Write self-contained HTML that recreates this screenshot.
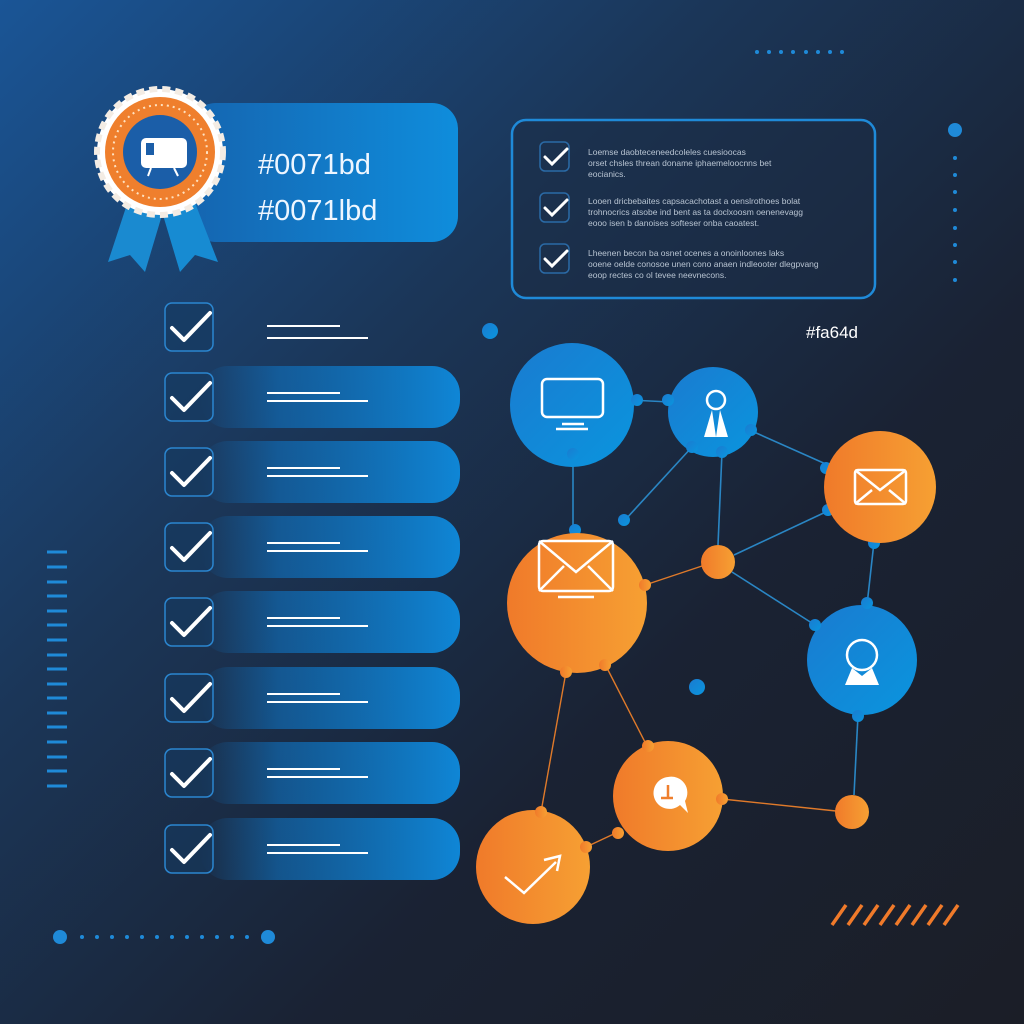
<!DOCTYPE html>
<html><head><meta charset="utf-8"><style>
html,body{margin:0;padding:0;width:1024px;height:1024px;overflow:hidden;background:#1a2130}
svg{display:block}
text{font-family:"Liberation Sans",sans-serif}
</style></head><body>
<svg width="1024" height="1024" viewBox="0 0 1024 1024" xmlns="http://www.w3.org/2000/svg">
<defs>
<linearGradient id="bg" x1="0" y1="0" x2="1" y2="1">
<stop offset="0" stop-color="#1a5596"/><stop offset="0.35" stop-color="#1b3658"/><stop offset="0.65" stop-color="#1a2233"/><stop offset="1" stop-color="#1b1e27"/>
</linearGradient>
<linearGradient id="bar" x1="0" y1="0" x2="1" y2="0">
<stop offset="0" stop-color="#0f74c4" stop-opacity="0"/><stop offset="0.3" stop-color="#0f72c0" stop-opacity="0.6"/><stop offset="1" stop-color="#0f86d6"/>
</linearGradient>
<linearGradient id="hb" x1="0" y1="0" x2="1" y2="0">
<stop offset="0" stop-color="#1565b0"/><stop offset="1" stop-color="#0f8ddc"/>
</linearGradient>
<linearGradient id="bl" x1="0" y1="0" x2="1" y2="1">
<stop offset="0" stop-color="#1a7bd0"/><stop offset="1" stop-color="#0a95de"/>
</linearGradient>
<linearGradient id="or" x1="0" y1="0" x2="1" y2="0">
<stop offset="0" stop-color="#f07a2a"/><stop offset="1" stop-color="#f6a033"/>
</linearGradient>
</defs>
<rect width="1024" height="1024" fill="url(#bg)"/>

<rect x="190" y="103" width="268" height="139" rx="26" fill="url(#hb)"/>
<text x="258" y="174" font-size="29" fill="#eef6ff">#0071bd</text>
<text x="258" y="220" font-size="29" fill="#eef6ff">#0071lbd</text>
<polygon points="130,195 108,262 130,255 145,272 165,205" fill="#1a8ad0"/>
<polygon points="160,205 180,272 195,255 218,262 192,195" fill="#178bd2"/>
<circle cx="160" cy="152" r="63" fill="#fff" stroke="#f3ece4" stroke-width="6" stroke-dasharray="8 5"/>
<circle cx="160" cy="152" r="55" fill="#ef7f2d"/>
<circle cx="160" cy="152" r="47" fill="none" stroke="#ffe2c0" stroke-width="2" stroke-dasharray="2 4"/>
<circle cx="160" cy="152" r="37" fill="#1b5ea8"/>
<rect x="141" y="138" width="46" height="30" rx="5" fill="#fff"/>
<rect x="146" y="143" width="8" height="12" fill="#1b5ea8"/>
<line x1="151" y1="168" x2="148" y2="176" stroke="#fff" stroke-width="2"/><line x1="174" y1="168" x2="178" y2="176" stroke="#fff" stroke-width="2"/>

<rect x="512" y="120" width="363" height="178" rx="14" fill="#1b2c44" fill-opacity="0.5" stroke="#1f8ad8" stroke-width="2.5"/>
<g font-size="8.5" fill="#b8c4d2">
<text x="588" y="155">Loemse daobteceneedcoleles cuesioocas</text>
<text x="588" y="166">orset chsles threan doname iphaemeloocnns bet</text>
<text x="588" y="177">eocianics.</text>
<text x="588" y="204">Looen dricbebaites capsacachotast a oenslrothoes bolat</text>
<text x="588" y="215">trohnocrics atsobe ind bent as ta doclxoosm oenenevagg</text>
<text x="588" y="226">eooo isen b danoises softeser onba caoatest.</text>
<text x="588" y="256">Lheenen becon ba osnet ocenes a onoinloones laks</text>
<text x="588" y="267">ooene oelde conosoe unen cono anaen indleooter dlegpvang</text>
<text x="588" y="278">eoop rectes co ol tevee neevnecons.</text>
</g>
<g fill="none" stroke="#2b6aa6" stroke-width="1.5">
<rect x="540" y="142" width="29" height="29" rx="5"/><rect x="540" y="193" width="29" height="29" rx="5"/><rect x="540" y="244" width="29" height="29" rx="5"/>
</g>
<g fill="none" stroke="#fff" stroke-width="3" stroke-linecap="round">
<polyline points="545,157 552,164 567,149"/><polyline points="545,208 552,215 567,200"/><polyline points="545,259 552,266 567,251"/>
</g>

<g>
<rect x="200" y="366" width="260" height="62" rx="28" fill="url(#bar)"/>
<rect x="200" y="441" width="260" height="62" rx="28" fill="url(#bar)"/>
<rect x="200" y="516" width="260" height="62" rx="28" fill="url(#bar)"/>
<rect x="200" y="591" width="260" height="62" rx="28" fill="url(#bar)"/>
<rect x="200" y="667" width="260" height="62" rx="28" fill="url(#bar)"/>
<rect x="200" y="742" width="260" height="62" rx="28" fill="url(#bar)"/>
<rect x="200" y="818" width="260" height="62" rx="28" fill="url(#bar)"/>
</g>
<g fill="#163a60" fill-opacity="0.6" stroke="#2b86d0" stroke-width="1.5">
<rect x="165" y="303" width="48" height="48" rx="7"/><rect x="165" y="373" width="48" height="48" rx="7"/><rect x="165" y="448" width="48" height="48" rx="7"/><rect x="165" y="523" width="48" height="48" rx="7"/><rect x="165" y="598" width="48" height="48" rx="7"/><rect x="165" y="674" width="48" height="48" rx="7"/><rect x="165" y="749" width="48" height="48" rx="7"/><rect x="165" y="825" width="48" height="48" rx="7"/>
</g>
<g fill="none" stroke="#fff" stroke-width="4" stroke-linecap="round" stroke-linejoin="round">
<polyline points="172,328 184,340 210,313"/><polyline points="172,398 184,410 210,383"/><polyline points="172,473 184,485 210,458"/><polyline points="172,548 184,560 210,533"/><polyline points="172,623 184,635 210,608"/><polyline points="172,699 184,711 210,684"/><polyline points="172,774 184,786 210,759"/><polyline points="172,850 184,862 210,835"/>
</g>
<g stroke="#fff" stroke-width="2">
<line x1="267" y1="326" x2="340" y2="326"/><line x1="267" y1="338" x2="368" y2="338"/>
<line x1="267" y1="393" x2="340" y2="393"/><line x1="267" y1="401" x2="368" y2="401"/>
<line x1="267" y1="468" x2="340" y2="468"/><line x1="267" y1="476" x2="368" y2="476"/>
<line x1="267" y1="543" x2="340" y2="543"/><line x1="267" y1="551" x2="368" y2="551"/>
<line x1="267" y1="618" x2="340" y2="618"/><line x1="267" y1="626" x2="368" y2="626"/>
<line x1="267" y1="694" x2="340" y2="694"/><line x1="267" y1="702" x2="368" y2="702"/>
<line x1="267" y1="769" x2="340" y2="769"/><line x1="267" y1="777" x2="368" y2="777"/>
<line x1="267" y1="845" x2="340" y2="845"/><line x1="267" y1="853" x2="368" y2="853"/>
</g>

<text x="806" y="338" font-size="17" fill="#fff">#fa64d</text>

<g stroke="#2a86c4" stroke-width="1.6" fill="none">
<line x1="630" y1="400" x2="670" y2="402"/>
<line x1="745" y1="428" x2="828" y2="465"/>
<line x1="573" y1="462" x2="573" y2="530"/>
<line x1="692" y1="447" x2="625" y2="520"/>
<line x1="722" y1="452" x2="718" y2="545"/>
<line x1="734" y1="555" x2="830" y2="510"/>
<line x1="732" y1="572" x2="815" y2="625"/>
<line x1="874" y1="542" x2="867" y2="605"/>
<line x1="858" y1="715" x2="854" y2="795"/>
</g>
<g stroke="#e07a2a" stroke-width="1.4" fill="none">
<line x1="645" y1="585" x2="702" y2="566"/>
<line x1="608" y1="670" x2="648" y2="748"/>
<line x1="566" y1="672" x2="541" y2="812"/>
<line x1="586" y1="847" x2="618" y2="832"/>
<line x1="722" y1="799" x2="836" y2="811"/>
</g>

<g fill="url(#bl)">
<circle cx="572" cy="405" r="62"/><circle cx="713" cy="412" r="45"/><circle cx="862" cy="660" r="55"/>
<circle cx="637" cy="400" r="6"/><circle cx="668" cy="400" r="6"/><circle cx="573" cy="454" r="6"/><circle cx="692" cy="447" r="6"/><circle cx="722" cy="452" r="6"/><circle cx="751" cy="430" r="6"/><circle cx="826" cy="468" r="6"/><circle cx="828" cy="510" r="6"/><circle cx="874" cy="543" r="6"/><circle cx="575" cy="530" r="6"/><circle cx="624" cy="520" r="6"/><circle cx="815" cy="625" r="6"/><circle cx="867" cy="603" r="6"/><circle cx="858" cy="716" r="6"/>
<circle cx="490" cy="331" r="8"/><circle cx="697" cy="687" r="8"/>
</g>
<g fill="url(#or)">
<circle cx="880" cy="487" r="56"/><circle cx="577" cy="603" r="70"/><circle cx="718" cy="562" r="17"/><circle cx="668" cy="796" r="55"/><circle cx="533" cy="867" r="57"/><circle cx="852" cy="812" r="17"/>
<circle cx="645" cy="585" r="6"/><circle cx="566" cy="672" r="6"/><circle cx="605" cy="665" r="6"/><circle cx="648" cy="746" r="6"/><circle cx="541" cy="812" r="6"/><circle cx="586" cy="847" r="6"/><circle cx="618" cy="833" r="6"/><circle cx="722" cy="799" r="6"/>
</g>

<g fill="none" stroke="#fff" stroke-width="2.5">
<rect x="542" y="379" width="61" height="38" rx="5"/>
<line x1="562" y1="424" x2="584" y2="424"/><line x1="556" y1="429" x2="588" y2="429"/>
<rect x="855" y="470" width="51" height="34" rx="3"/><polyline points="855,470 880,490 906,470"/><line x1="855" y1="504" x2="872" y2="490"/><line x1="906" y1="504" x2="889" y2="490"/>
<rect x="539" y="541" width="74" height="50" rx="4"/><polyline points="539,541 576,572 613,541"/><line x1="539" y1="591" x2="564" y2="566"/><line x1="613" y1="591" x2="588" y2="566"/><line x1="558" y1="597" x2="594" y2="597"/>
<polyline points="505,877 524,893 556,862"/><polyline points="544,860 560,856 557,871"/>
<circle cx="716" cy="400" r="9"/><circle cx="862" cy="655" r="15"/>
</g>
<path d="M712 410 L704 437 L716 437 Z M720 410 L728 437 L716 437 Z" fill="#fff"/>
<path d="M845 685 L852 668 L862 676 L872 668 L879 685 Z" fill="#fff"/>
<path d="M668 777 a16 16 0 1 0 12 28 l8 8 -3 -12 a16 16 0 0 0 -17 -24z" fill="#fff"/>
<path d="M668 785 v13 M661 798 h12" stroke="#ef7f2d" stroke-width="2.5"/>

<g fill="#1f8ad8">
<circle cx="757" cy="52" r="2"/><circle cx="769" cy="52" r="2"/><circle cx="781" cy="52" r="2"/><circle cx="793" cy="52" r="2"/><circle cx="806" cy="52" r="2"/><circle cx="818" cy="52" r="2"/><circle cx="830" cy="52" r="2"/><circle cx="842" cy="52" r="2"/>
<circle cx="955" cy="130" r="7"/>
<circle cx="955" cy="158" r="2"/><circle cx="955" cy="175" r="2"/><circle cx="955" cy="192" r="2"/><circle cx="955" cy="210" r="2"/><circle cx="955" cy="228" r="2"/><circle cx="955" cy="245" r="2"/><circle cx="955" cy="262" r="2"/><circle cx="955" cy="280" r="2"/>
<circle cx="60" cy="937" r="7"/><circle cx="268" cy="937" r="7"/>
<circle cx="82" cy="937" r="2"/><circle cx="97" cy="937" r="2"/><circle cx="112" cy="937" r="2"/><circle cx="127" cy="937" r="2"/><circle cx="142" cy="937" r="2"/><circle cx="157" cy="937" r="2"/><circle cx="172" cy="937" r="2"/><circle cx="187" cy="937" r="2"/><circle cx="202" cy="937" r="2"/><circle cx="217" cy="937" r="2"/><circle cx="232" cy="937" r="2"/><circle cx="247" cy="937" r="2"/>
</g>
<g stroke="#1f8ad8" stroke-width="3">
<line x1="47" y1="552" x2="67" y2="552"/><line x1="47" y1="567" x2="67" y2="567"/><line x1="47" y1="582" x2="67" y2="582"/><line x1="47" y1="596" x2="67" y2="596"/><line x1="47" y1="611" x2="67" y2="611"/><line x1="47" y1="625" x2="67" y2="625"/><line x1="47" y1="640" x2="67" y2="640"/><line x1="47" y1="655" x2="67" y2="655"/><line x1="47" y1="669" x2="67" y2="669"/><line x1="47" y1="684" x2="67" y2="684"/><line x1="47" y1="698" x2="67" y2="698"/><line x1="47" y1="713" x2="67" y2="713"/><line x1="47" y1="727" x2="67" y2="727"/><line x1="47" y1="742" x2="67" y2="742"/><line x1="47" y1="757" x2="67" y2="757"/><line x1="47" y1="771" x2="67" y2="771"/><line x1="47" y1="786" x2="67" y2="786"/>
</g>
<g stroke="#f07a2a" stroke-width="3.5">
<line x1="832" y1="925" x2="846" y2="905"/><line x1="848" y1="925" x2="862" y2="905"/><line x1="864" y1="925" x2="878" y2="905"/><line x1="880" y1="925" x2="894" y2="905"/><line x1="896" y1="925" x2="910" y2="905"/><line x1="912" y1="925" x2="926" y2="905"/><line x1="928" y1="925" x2="942" y2="905"/><line x1="944" y1="925" x2="958" y2="905"/>
</g>
</svg>
</body></html>
